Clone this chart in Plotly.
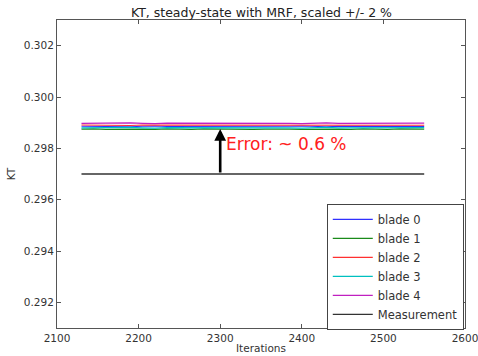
import plotly.graph_objects as go

# Iteration numbers sampled along the steady-state run
iterations = [2130, 2145, 2160, 2175, 2190, 2205, 2220, 2235, 2250, 2265,
              2280, 2295, 2310, 2325, 2340, 2355, 2370, 2385, 2400, 2415,
              2430, 2445, 2460, 2475, 2490, 2505, 2520, 2535, 2550]

# Thrust coefficient per blade
blade_0 = [0.29886, 0.29885, 0.29886, 0.29885, 0.29884, 0.29886, 0.29887, 0.29885, 0.29885, 0.29886,
           0.29885, 0.29886, 0.29885, 0.29884, 0.29886, 0.29885, 0.29885, 0.29886, 0.29887, 0.29885,
           0.29884, 0.29886, 0.29886, 0.29885, 0.29885, 0.29886, 0.29885, 0.29886, 0.29885]
blade_1 = [0.29875, 0.29876, 0.29874, 0.29875, 0.29876, 0.29875, 0.29874, 0.29876, 0.29875, 0.29874,
           0.29876, 0.29875, 0.29875, 0.29876, 0.29874, 0.29875, 0.29876, 0.29875, 0.29874, 0.29875,
           0.29876, 0.29875, 0.29874, 0.29876, 0.29875, 0.29874, 0.29876, 0.29875, 0.29875]
blade_2 = [0.29891, 0.29890, 0.29891, 0.29890, 0.29889, 0.29891, 0.29891, 0.29890, 0.29890, 0.29891,
           0.29890, 0.29891, 0.29890, 0.29889, 0.29891, 0.29890, 0.29890, 0.29891, 0.29891, 0.29890,
           0.29889, 0.29891, 0.29891, 0.29890, 0.29890, 0.29891, 0.29890, 0.29891, 0.29890]
blade_3 = [0.29880, 0.29881, 0.29880, 0.29881, 0.29882, 0.29880, 0.29879, 0.29881, 0.29881, 0.29880,
           0.29881, 0.29880, 0.29881, 0.29882, 0.29880, 0.29881, 0.29881, 0.29880, 0.29879, 0.29881,
           0.29882, 0.29880, 0.29880, 0.29881, 0.29881, 0.29880, 0.29881, 0.29880, 0.29881]
blade_4 = [0.29897, 0.29898, 0.29897, 0.29898, 0.29899, 0.29897, 0.29896, 0.29898, 0.29898, 0.29897,
           0.29898, 0.29897, 0.29898, 0.29899, 0.29897, 0.29898, 0.29898, 0.29897, 0.29896, 0.29898,
           0.29899, 0.29897, 0.29897, 0.29898, 0.29898, 0.29897, 0.29898, 0.29897, 0.29898]

blade_names = ["blade 0", "blade 1", "blade 2", "blade 3", "blade 4"]
blade_values = [blade_0, blade_1, blade_2, blade_3, blade_4]
blade_colors = ["#3030ff", "#1a8a1a", "#ff3030", "#00c0c0", "#c020c0"]

# Measured thrust coefficient and the span it is drawn over
measurement_value = 0.297
measurement_span = [2130, 2550]

# Error marker
error_iteration = 2300
error_label = "Error: ~ 0.6 %"
error_top = 0.29875

x_ticks = [2100, 2200, 2300, 2400, 2500, 2600]
y_ticks = [0.292, 0.294, 0.296, 0.298, 0.300, 0.302]

fig = go.Figure()

for name, vals, col in zip(blade_names, blade_values, blade_colors):
    fig.add_trace(go.Scatter(x=iterations, y=vals, mode="lines", name=name,
                             line=dict(color=col, width=1.2)))

fig.add_trace(go.Scatter(x=measurement_span, y=[measurement_value] * 2, mode="lines",
                         name="Measurement", line=dict(color="#333333", width=1.3)))

fig.add_annotation(x=error_iteration, y=error_top, ax=error_iteration, ay=measurement_value,
                   xref="x", yref="y", axref="x", ayref="y", text="",
                   showarrow=True, arrowhead=2, arrowsize=0.9, arrowwidth=2.6,
                   arrowcolor="black")
fig.add_annotation(x=error_iteration + 5, y=0.29817, xref="x", yref="y",
                   text=error_label, showarrow=False, xanchor="left", yanchor="middle",
                   font=dict(color="#ff2020", size=17, family="DejaVu Sans"))

axis_common = dict(showline=True, linecolor="#555555", linewidth=1, mirror="ticks",
                   ticks="inside", ticklen=4, tickcolor="#555555", showgrid=False,
                   zeroline=False, automargin=False, ticklabeloverflow="allow",
                   tickfont=dict(size=10.5, color="#333333"))

fig.update_xaxes(range=[2100, 2600], tickvals=x_ticks,
                 title=dict(text="Iterations", font=dict(size=10.5, color="#333333"), standoff=2),
                 **axis_common)
fig.update_yaxes(range=[0.291, 0.303], tickvals=y_ticks, tickformat=".3f",
                 title=dict(text="KT", font=dict(size=10.5, color="#333333"), standoff=6),
                 **axis_common)

fig.update_layout(
    width=478, height=356,
    margin=dict(l=57, r=13, t=20, b=28),
    paper_bgcolor="white", plot_bgcolor="white",
    font=dict(family="DejaVu Sans", color="#333333"),
    title=dict(text="KT, steady-state with MRF, scaled +/- 2 %", x=0.547, xanchor="center",
               y=0.965, yanchor="middle", font=dict(size=12.5, color="#222222")),
    legend=dict(x=0.997, y=-0.006, xanchor="right", yanchor="bottom",
                bgcolor="white", bordercolor="#444444", borderwidth=1,
                font=dict(size=11.5, color="#333333"), tracegroupgap=0, itemwidth=40),
    showlegend=True,
)

fig.write_html("out.html")
